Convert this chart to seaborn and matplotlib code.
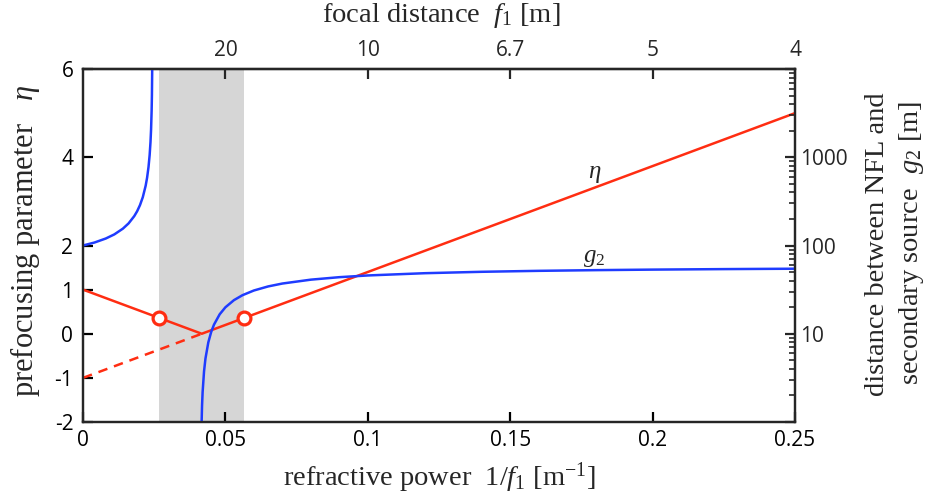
import matplotlib
matplotlib.use("Agg")
import matplotlib.pyplot as plt
import seaborn as sns
import pandas as pd
from matplotlib.ticker import FixedLocator, LogLocator, NullFormatter

# prefocusing parameter eta against refractive power 1/f1
power_eta = [0.0, 0.0417, 0.25]
eta_value = [1.0, 0.0, 5.0]
power_eta_virtual = [0.0, 0.0417]
eta_virtual = [-1.0, 0.0]

# working window limits (open circles) and shaded range
window_power = [0.0268, 0.0567]
window_eta = [0.36, 0.36]

# distance g2 between NFL and secondary source [m]
power_g2_virtual = [0.0, 0.004, 0.008, 0.011, 0.014, 0.016, 0.018, 0.019, 0.020,
                    0.021, 0.022, 0.0225, 0.023, 0.0234, 0.0237, 0.0239, 0.0241,
                    0.0242, 0.0243]
g2_virtual = [100.0, 108.0, 120.0, 133.6, 155.2, 178.0, 215.3, 244.2, 286.3,
              353.1, 475.7, 585.3, 773.3, 1059.0, 1488.0, 2059.0, 3392.0,
              5059.0, 10059.0]
power_g2_real = [0.0416, 0.0418, 0.042, 0.0425, 0.043, 0.044, 0.045, 0.046, 0.048,
                 0.050, 0.053, 0.056, 0.060, 0.065, 0.070, 0.080, 0.090, 0.100,
                 0.120, 0.140, 0.160, 0.180, 0.200, 0.225, 0.250]
g2_real = [0.86, 1.53, 2.18, 3.75, 5.24, 7.98, 10.46, 12.70, 16.63, 19.94, 24.03,
           27.35, 30.91, 34.37, 37.07, 41.01, 43.76, 45.77, 48.54, 50.35, 51.63,
           52.57, 53.31, 54.01, 54.57]

# axis ticks
eta_ticks = [-2, -1, 0, 1, 2, 4, 6]
eta_tick_labels = ["-2", "-1", "0", "1", "2", "4", "6"]
power_ticks = [0.0, 0.05, 0.1, 0.15, 0.2, 0.25]
power_tick_labels = ["0", "0.05", "0.1", "0.15", "0.2", "0.25"]
g2_ticks = [1, 10, 100, 1000, 10000]
g2_tick_labels = ["", "10", "100", "1000", ""]
focal_ticks = [0.05, 0.1, 0.15, 0.2, 0.25]
focal_tick_labels = ["20", "10", "6.7", "5", "4"]

RED = "#ff2d12"
BLUE = "#1f3cff"
GRAY = "#d6d6d6"

sns.set_style("ticks")
plt.rcParams["font.family"] = ["Open Sans", "DejaVu Sans"]
plt.rcParams["font.weight"] = 500
plt.rcParams["mathtext.fontset"] = "custom"
plt.rcParams["mathtext.rm"] = "Liberation Serif"
plt.rcParams["mathtext.it"] = "Liberation Serif:italic"
plt.rcParams["mathtext.bf"] = "Liberation Serif:bold"
plt.rcParams["axes.linewidth"] = 1.6

SERIF = ["Liberation Serif", "DejaVu Serif"]
TICK_SIZE = 15
LABEL_SIZE = 20.5

fig = plt.figure(figsize=(9.28, 4.96), dpi=100)
ax = fig.add_axes([83 / 928, 1 - 422 / 496, (795 - 83) / 928, (422 - 69) / 496])

ax.axvspan(window_power[0], window_power[1], color=GRAY, lw=0, zorder=0)

eta_df = pd.DataFrame({"power": power_eta, "eta": eta_value})
virt_df = pd.DataFrame({"power": power_eta_virtual, "eta": eta_virtual})
sns.lineplot(data=eta_df, x="power", y="eta", ax=ax, color=RED, lw=1.8,
             estimator=None, sort=False, zorder=3)
sns.lineplot(data=virt_df, x="power", y="eta", ax=ax, color=RED, lw=1.8,
             estimator=None, sort=False, zorder=3)
ax.lines[-1].set_linestyle((0, (3.8, 2.8)))
sns.scatterplot(x=window_power, y=window_eta, ax=ax, s=85, facecolor="white",
                edgecolor=RED, linewidth=2.3, zorder=5)

ax.set_xlim(0, 0.25)
ax.set_ylim(-2, 6)
ax.set_xticks(power_ticks, power_tick_labels)
ax.set_yticks(eta_ticks, eta_tick_labels)
ax.tick_params(axis="both", direction="in", length=7, width=1.6,
               labelsize=TICK_SIZE, colors="black")
ax.tick_params(axis="x", pad=6)
ax.tick_params(axis="y", pad=7)
for tick in ax.yaxis.get_major_ticks():
    if tick.get_loc() in (-1, 1):
        tick.tick1line.set_visible(False)
ax.set_xlabel("")
ax.set_ylabel("")

# log axis for g2 on the right
ax2 = ax.twinx()
ax2.set_yscale("log")
virt_g2 = pd.DataFrame({"power": power_g2_virtual, "g2": g2_virtual})
real_g2 = pd.DataFrame({"power": power_g2_real, "g2": g2_real})
sns.lineplot(data=virt_g2, x="power", y="g2", ax=ax2, color=BLUE, lw=1.8,
             estimator=None, sort=False)
sns.lineplot(data=real_g2, x="power", y="g2", ax=ax2, color=BLUE, lw=1.8,
             estimator=None, sort=False)
ax2.set_ylim(1, 1e4)
ax2.set_xlim(0, 0.25)
ax2.yaxis.set_major_locator(FixedLocator(g2_ticks))
ax2.set_yticklabels(g2_tick_labels)
ax2.yaxis.set_minor_locator(LogLocator(base=10, subs=range(2, 10)))
ax2.yaxis.set_minor_formatter(NullFormatter())
ax2.tick_params(axis="y", which="major", direction="in", length=7, width=1.6,
                labelsize=TICK_SIZE, pad=4)
ax2.tick_params(axis="y", which="minor", direction="in", length=4, width=1.2)
ax2.set_ylabel("")
ax2.set_xlabel("")

# focal distance on the top axis
top = ax.secondary_xaxis("top")
top.set_xticks(focal_ticks, focal_tick_labels)
top.tick_params(direction="in", length=7, width=1.6, labelsize=TICK_SIZE, pad=6)

for spine in list(ax.spines.values()) + list(ax2.spines.values()):
    spine.set_linewidth(1.6)

# curve labels
ax.text(0.1795, 3.65, r"$\eta$", fontsize=18, ha="center", va="center")
ax.text(0.1795, 1.75, r"$g_2$", fontsize=18, ha="center", va="center")

# axis titles
fig.text(439 / 928, 1 - 478 / 496,
         r"refractive power  $1/f_\mathit{1}$ [m$^{-1}$]",
         family=SERIF, fontsize=LABEL_SIZE, ha="center", va="center")
fig.text(441 / 928, 1 - 15 / 496, r"focal distance  $f_\mathit{1}$ [m]",
         family=SERIF, fontsize=LABEL_SIZE, ha="center", va="center")
fig.text(25 / 928, 1 - 241 / 496, r"prefocusing parameter   $\eta$",
         family=SERIF, fontsize=22, ha="center", va="center", rotation=90)
fig.text(878 / 928, 1 - 244 / 496, "distance between NFL and",
         family=SERIF, fontsize=LABEL_SIZE, ha="center", va="center", rotation=90)
fig.text(912 / 928, 1 - 243 / 496, r"secondary source  $g_2$ [m]",
         family=SERIF, fontsize=LABEL_SIZE, ha="center", va="center", rotation=90)

fig.savefig("out.png", dpi=100)
